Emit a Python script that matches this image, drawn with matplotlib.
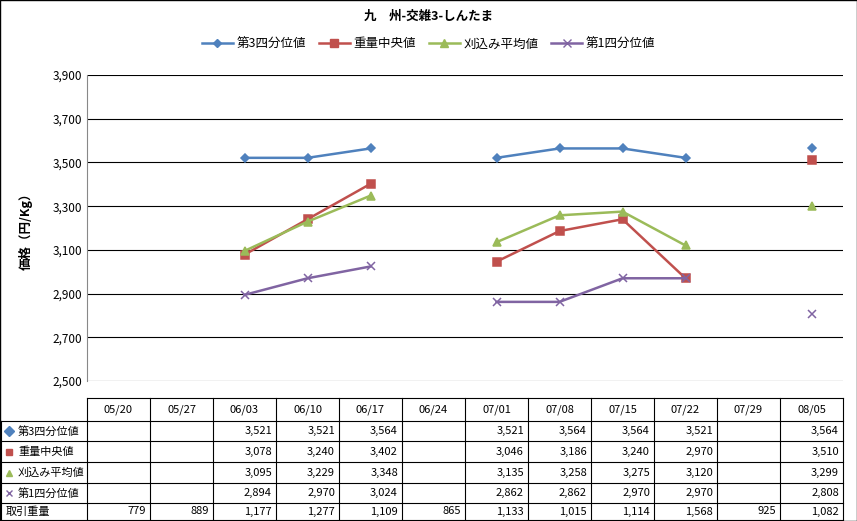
import numpy as np
import matplotlib
matplotlib.use("Agg")
import matplotlib.pyplot as plt
from matplotlib.lines import Line2D

plt.rcParams['font.family'] = ['Noto Sans CJK JP', 'DejaVu Sans']

dates = ["05/20", "05/27", "06/03", "06/10", "06/17", "06/24", "07/01", "07/08", "07/15", "07/22", "07/29", "08/05"]
q3 = [None, None, 3521, 3521, 3564, None, 3521, 3564, 3564, 3521, None, 3564]
median = [None, None, 3078, 3240, 3402, None, 3046, 3186, 3240, 2970, None, 3510]
mean = [None, None, 3095, 3229, 3348, None, 3135, 3258, 3275, 3120, None, 3299]
q1 = [None, None, 2894, 2970, 3024, None, 2862, 2862, 2970, 2970, None, 2808]
volume = [779, 889, 1177, 1277, 1109, 865, 1133, 1015, 1114, 1568, 925, 1082]

series = [
    ("第3四分位値", q3, "#4F81BD", "D", 4.5),
    ("重量中央値", median, "#C0504D", "s", 5.5),
    ("刈込み平均値", mean, "#9BBB59", "^", 5.5),
    ("第1四分位値", q1, "#8064A2", "x", 5.5),
]

W, H = 857, 521
fig = plt.figure(figsize=(W / 100, H / 100), dpi=100)
L, R, T, B = 87, 843, 75, 381
ax = fig.add_axes([L / W, 1 - B / H, (R - L) / W, (B - T) / H])

x = np.arange(len(dates))
handles = []
for name, vals, col, mk, ms in series:
    y = np.array([np.nan if v is None else v for v in vals], dtype=float)
    ax.plot(x, y, color=col, lw=1.8, marker=mk, ms=ms, mec=col, mfc=col, mew=1.1)
    handles.append(Line2D([], [], color=col, lw=1.8, marker=mk, ms=ms, mec=col, mfc=col))

ax.set_xlim(-0.5, len(dates) - 0.5)
ax.set_ylim(2500, 3900)
ax.set_yticks(range(2500, 3901, 200))
ax.set_yticklabels([f"{v:,}" for v in range(2500, 3901, 200)], fontsize=8.5)
ax.yaxis.grid(True, color="black", lw=0.8)
ax.set_xticks([])
ax.tick_params(axis="y", length=0)
for s in ["top", "right", "left", "bottom"]:
    ax.spines[s].set_visible(False)
ax.spines["left"].set_visible(True)
ax.spines["left"].set_color("#888888")
ax.set_ylabel("価格（円/Kg）", fontsize=9, fontweight="bold", labelpad=14)

fig.text(0.5, 1 - 16 / H, "九　州-交雑3-しんたま", ha="center", va="center", fontsize=9, fontweight="bold")
fig.legend(handles, [s[0] for s in series], loc="center", bbox_to_anchor=(0.5, 1 - 44 / H),
           ncol=4, frameon=False, fontsize=9, handlelength=2.5, handletextpad=0.3, columnspacing=1.0)

# data table
rows_y = [398, 421, 441, 462, 483, 503, 520]
cw = (R - L) / len(dates)
def fx(px): return px / W
def fy(py): return 1 - py / H
for yy in rows_y:
    x0 = L if yy == 398 else 1
    fig.add_artist(Line2D([fx(x0), fx(R)], [fy(yy), fy(yy)], color="black", lw=0.8))
fig.add_artist(Line2D([fx(1), fx(1)], [fy(421), fy(520)], color="black", lw=0.8))
for i in range(len(dates) + 1):
    xx = L + i * cw
    fig.add_artist(Line2D([fx(xx), fx(xx)], [fy(398), fy(520)], color="black", lw=0.8))

for i, d in enumerate(dates):
    fig.text(fx(L + (i + 0.5) * cw), fy(410), d, ha="center", va="center", fontsize=8)

row_names = [s[0] for s in series] + ["取引重量"]
row_vals = [s[1] for s in series] + [volume]
for r, (name, vals) in enumerate(zip(row_names, row_vals)):
    yc = (rows_y[r + 1] + rows_y[r + 2]) / 2
    if r < 4:
        _, _, col, mk, _ = series[r]
        fig.add_artist(Line2D([fx(9)], [fy(yc)], color=col, marker=mk, ms=5,
                              mfc=col, mec=col, lw=0))
        fig.text(fx(18), fy(yc), name, ha="left", va="center", fontsize=8)
    else:
        fig.text(fx(6), fy(yc), name, ha="left", va="center", fontsize=8)
    for i, v in enumerate(vals):
        if v is not None:
            fig.text(fx(L + (i + 1) * cw - 4), fy(yc), f"{v:,}", ha="right", va="center", fontsize=8)

fig.add_artist(plt.Rectangle((0, 0), 1, 1, transform=fig.transFigure, fill=False, ec="black", lw=1))
fig.savefig("out.png", dpi=100)
